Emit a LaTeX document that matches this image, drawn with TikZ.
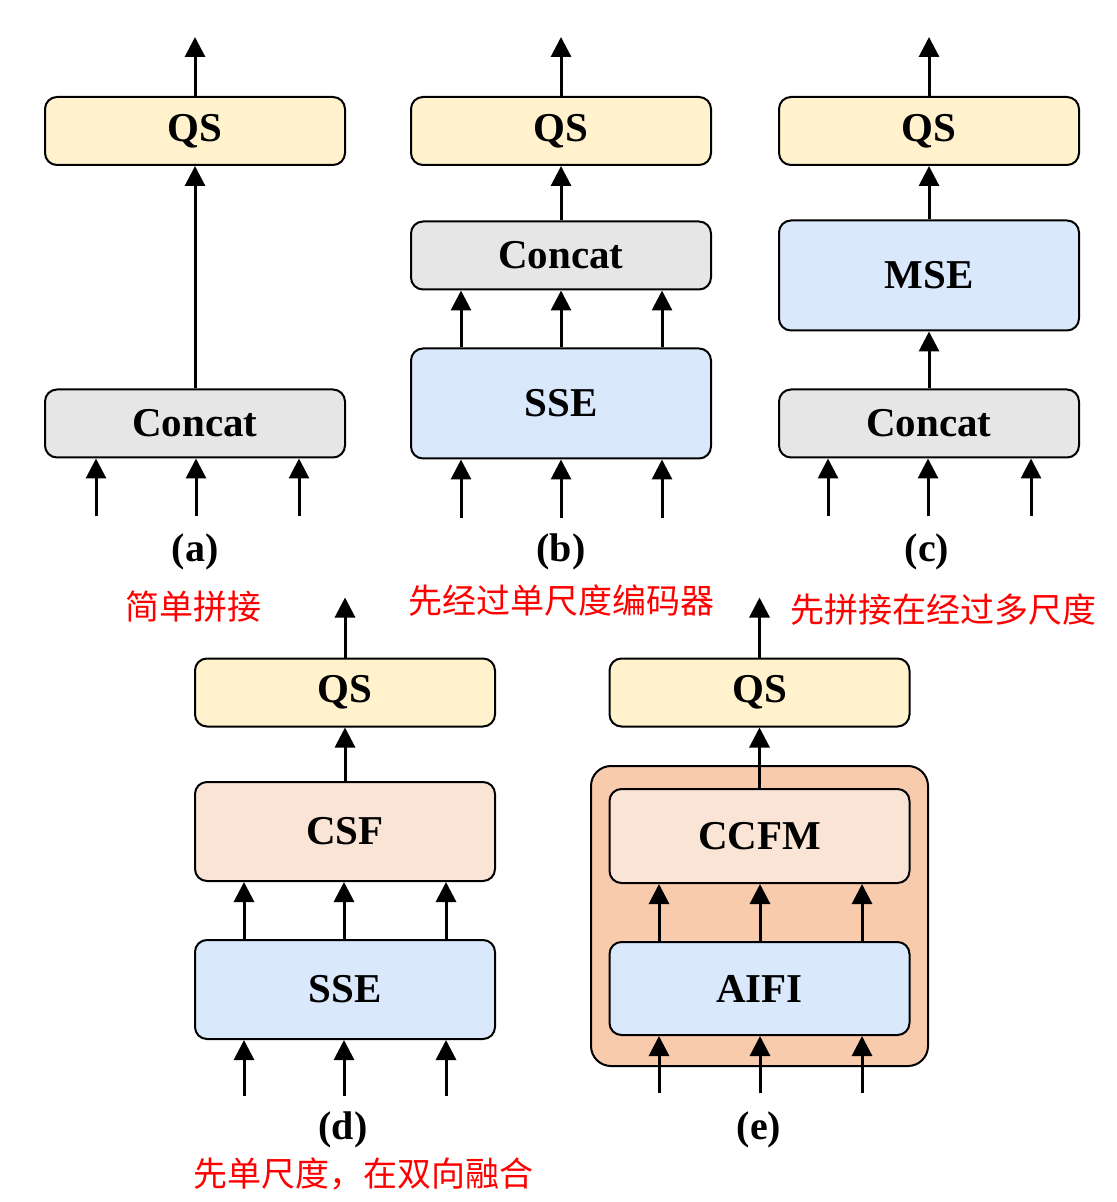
\documentclass[tikz,border=0pt]{standalone}
\usepackage{fontspec}
\setmainfont{Liberation Serif}
\newfontfamily\cjk{Noto Sans CJK SC}
\usetikzlibrary{arrows.meta, calc, positioning}
\definecolor{qsfill}{HTML}{FFF2CC}
\definecolor{catfill}{HTML}{E6E6E6}
\definecolor{encfill}{HTML}{DAE8FC}
\definecolor{fusefill}{HTML}{FAE4D6}
\definecolor{wrapfill}{HTML}{F8CBAD}
\definecolor{noteRed}{HTML}{FF0000}

\begin{document}
\begin{tikzpicture}[x=0.5pt, y=-0.5pt,
  blk/.style={draw, line width=1pt, rounded corners=6pt, minimum width=150pt,
              minimum height=34pt, font=\fontsize{20.5}{24}\selectfont\bfseries},
  tall/.style={blk, minimum height=55pt},
  flow/.style={-{Triangle[length=10pt,width=10pt]}, line width=1.5pt},
  sublabel/.style={font=\fontsize{20}{24}\selectfont\bfseries},
  note/.style={font=\cjk\fontsize{17}{20}\selectfont, text=noteRed}]
  \useasboundingbox (0,0) rectangle (1116,1202);

  % (a) simple concat
  \node[blk, fill=qsfill]  (Qa) at (195,131) {QS};
  \node[blk, fill=catfill] (Ca) at (195,423.5) {Concat};
  \coordinate (Oa) at ($(Qa.north)+(0,-59)$);
  \draw[flow] (Qa.north) -- (Oa);
  \draw[flow] (Ca.north) -- (Qa.south);
  \foreach \dx in {-99,1,104} {
    \coordinate (Ia) at ($(Ca.south)+(\dx,57)$);
    \draw[flow] (Ia) -- ($(Ca.south)+(\dx,0)$);
  }
  \node[sublabel] (La) at (195,552) {(a)};
  \node[note]     (Na) at (193,607) {简单拼接};

  % (b) single-scale encoder first
  \node[blk, fill=qsfill]   (Qb) at (561,131) {QS};
  \node[blk, fill=catfill]  (Cb) at (561,255.5) {Concat};
  \node[tall, fill=encfill] (Sb) at (561,403.5) {SSE};
  \coordinate (Ob) at ($(Qb.north)+(0,-59)$);
  \draw[flow] (Qb.north) -- (Ob);
  \draw[flow] (Cb.north) -- (Qb.south);
  \foreach \dx in {-100,0,101} {
    \draw[flow] ($(Sb.north)+(\dx,0)$) -- ($(Cb.south)+(\dx,0)$);
    \coordinate (Ib) at ($(Sb.south)+(\dx,58)$);
    \draw[flow] (Ib) -- ($(Sb.south)+(\dx,0)$);
  }
  \node[sublabel] (Lb) at (561,552) {(b)};
  \node[note]     (Nb) at (561,601) {先经过单尺度编码器};

  % (c) concat then multi-scale encoder
  \node[blk, fill=qsfill]   (Qc) at (929,131) {QS};
  \node[tall, fill=encfill] (Mc) at (929,275.5) {MSE};
  \node[blk, fill=catfill]  (Cc) at (929,423.5) {Concat};
  \coordinate (Oc) at ($(Qc.north)+(0,-59)$);
  \draw[flow] (Qc.north) -- (Oc);
  \draw[flow] (Mc.north) -- (Qc.south);
  \draw[flow] (Cc.north) -- (Mc.south);
  \foreach \dx in {-101,-1,102} {
    \coordinate (Ic) at ($(Cc.south)+(\dx,57)$);
    \draw[flow] (Ic) -- ($(Cc.south)+(\dx,0)$);
  }
  \node[sublabel] (Lc) at (927,552) {(c)};
  \node[note]     (Nc) at (943,610) {先拼接在经过多尺度};

  % (d) single scale, then cross-scale fusion
  \node[blk, fill=qsfill]    (Qd) at (345,692.5) {QS};
  \node[blk, fill=fusefill, minimum height=49.5pt] (Fd) at (345,831.5) {CSF};
  \node[blk, fill=encfill, minimum height=49.5pt]  (Sd) at (345,989.5) {SSE};
  \coordinate (Od) at ($(Qd.north)+(0,-60)$);
  \draw[flow] (Qd.north) -- (Od);
  \draw[flow] (Fd.north) -- (Qd.south);
  \foreach \dx in {-101,-1,101} {
    \draw[flow] ($(Sd.north)+(\dx,0)$) -- ($(Fd.south)+(\dx,0)$);
    \coordinate (Id) at ($(Sd.south)+(\dx,56)$);
    \draw[flow] (Id) -- ($(Sd.south)+(\dx,0)$);
  }
  \node[sublabel] (Ld) at (343,1130) {(d)};
  \node[note]     (Nd) at (363,1174) {先单尺度，在双向融合};

  % (e) AIFI + CCFM inside the hybrid encoder
  \node[draw, line width=1pt, rounded corners=10pt, fill=wrapfill,
        minimum width=168.5pt, minimum height=150pt] (We) at (759.5,916) {};
  \node[blk, fill=qsfill]   (Qe) at (759.5,692.5) {QS};
  \node[blk, fill=fusefill, minimum height=47pt] (Fe) at (759.5,836) {CCFM};
  \node[blk, fill=encfill, minimum height=46.5pt] (Ae) at (759.5,988.5) {AIFI};
  \coordinate (Oe) at ($(Qe.north)+(0,-60)$);
  \draw[flow] (Qe.north) -- (Oe);
  \draw[flow] (Fe.north) -- (Qe.south);
  \foreach \dx in {-100.5,0.5,102.5} {
    \draw[flow] ($(Ae.north)+(\dx,0)$) -- ($(Fe.south)+(\dx,0)$);
    \coordinate (Ie) at ($(Ae.south)+(\dx,57)$);
    \draw[flow] (Ie) -- ($(Ae.south)+(\dx,0)$);
  }
  \node[sublabel] (Le) at (759,1130) {(e)};
\end{tikzpicture}
\end{document}
